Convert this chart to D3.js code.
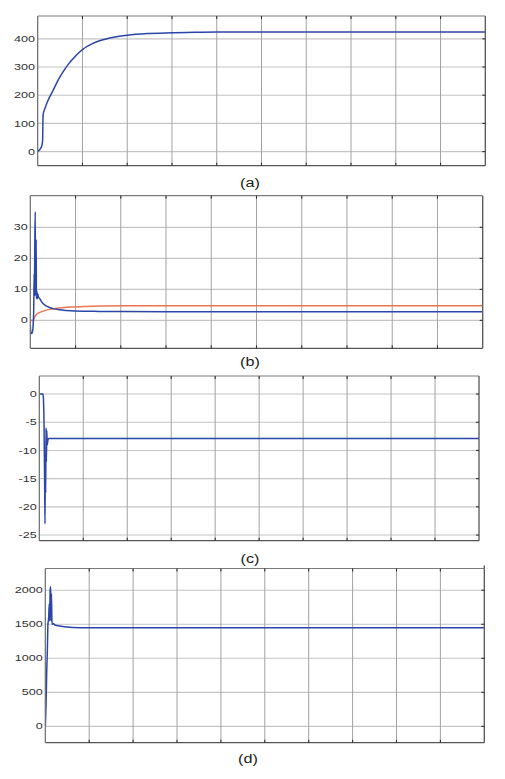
<!DOCTYPE html>
<html><head><meta charset="utf-8">
<script src="https://cdn.jsdelivr.net/npm/d3@7"></script>
<style>html,body{margin:0;padding:0;background:#fff}svg{display:block}</style>
</head><body>
<script>
// ---- data (x in grid units 0..10) ----
const tA = [0,0.013,0.05,0.09,0.11,0.118,0.125,0.15,0.2,0.27,0.35,0.45,0.57,0.7,0.8,0.9,1.0,1.2,1.4,1.7,2.0,2.5,3.0,3.5,4.0,5.0,6.0,8.0,10.0];
const yA = [0,2,8,20,40,120,135,148,170,195,219,252,284,313,331,348,362,381,394,406,413,419,422,423,424,424,424,424,424];

const tB1 = [0,0.01,0.03,0.05,0.065,0.075,0.085,0.09,0.1,0.11,0.115,0.125,0.13,0.135,0.145,0.155,0.165,0.18,0.2,0.25,0.3,0.4,0.5,0.65,0.8,1.0,1.5,2.0,3.0,10.0];
const yB1 = [-1.5,-3.8,-4.2,-3.5,-1,3,15,8,25,35,8,20,26,7,9.5,7,8.5,7.5,7.2,6,5.2,4.3,3.8,3.4,3.2,3.05,2.9,2.85,2.8,2.8];
const tB2 = [0,0.06,0.08,0.1,0.13,0.2,0.25,0.35,0.5,0.7,0.9,1.2,1.6,2.2,3.0,10.0];
const yB2 = [0,0,0.5,1.2,1.8,2.5,2.8,3.3,3.7,4.05,4.3,4.45,4.6,4.7,4.75,4.75];

const tC = [0,0.084,0.095,0.107,0.114,0.123,0.13,0.136,0.146,0.152,0.161,0.17,0.182,0.193,0.21,10.0];
const yC = [0,0,-1,-5,-10,-17,-23,-12,-17.5,-6,-12,-6.5,-9,-8.3,-7.9,-7.9];

const tD = [0,0.016,0.032,0.046,0.06,0.077,0.09,0.1,0.11,0.123,0.132,0.14,0.153,0.175,0.22,0.33,0.56,0.9,1.25,10.0];
const yD = [0,300,800,1100,1500,1600,1800,1550,2000,2050,1550,1950,1500,1510,1490,1475,1458,1450,1448,1448];

const ticksA = [0,100,200,300,400];
const ticksB = [0,10,20,30];
const ticksC = [0,-5,-10,-15,-20,-25];
const ticksD = [0,500,1000,1500,2000];
const panelLabels = ["(a)","(b)","(c)","(d)"];
const xGridUnits = [0,1,2,3,4,5,6,7,8,9,10];

const BLUE = "#2b46a8", ORANGE = "#ea7650";

const W = 505, H = 779;
const svg = d3.select("body").append("svg").attr("width", W).attr("height", H);
svg.append("rect").attr("width", W).attr("height", H).attr("fill", "#fff");

const panels = [
  {l:37.7, r:485.3, t:16,    b:165.7, dom:[-50,481],   ticks:ticksA, series:[[tA,yA,BLUE]],               lab:panelLabels[0], ly:187, lx:250},
  {l:30.3, r:482.7, t:195.7, b:348.3, dom:[-9,40.2],   ticks:ticksB, series:[[tB2,yB2,ORANGE],[tB1,yB1,BLUE]], lab:panelLabels[1], ly:366, lx:250},
  {l:39.3, r:479,   t:376,   b:540.7, dom:[-26,3.2],   ticks:ticksC, series:[[tC,yC,BLUE]],               lab:panelLabels[2], ly:563, lx:250},
  {l:45.3, r:484.3, t:568.5, b:742.7, dom:[-240,2320], ticks:ticksD, series:[[tD,yD,BLUE]],               lab:panelLabels[3], ly:763, lx:248}
];

panels.forEach((p, i) => {
  const x = d3.scaleLinear().domain([0,10]).range([p.l, p.r]);
  const y = d3.scaleLinear().domain(p.dom).range([p.b, p.t]);
  const g = svg.append("g");
  const clipId = "clip" + i;
  svg.append("clipPath").attr("id", clipId).append("rect")
    .attr("x", p.l).attr("y", p.t).attr("width", p.r - p.l).attr("height", p.b - p.t);

  g.selectAll(".hg").data(p.ticks).join("line")
    .attr("x1", p.l).attr("x2", p.r)
    .attr("y1", d => y(d)).attr("y2", d => y(d))
    .attr("stroke", "#c4c4c4").attr("stroke-width", 1.1);
  g.selectAll(".vg").data(xGridUnits.slice(1, -1)).join("line")
    .attr("x1", d => x(d)).attr("x2", d => x(d))
    .attr("y1", p.t).attr("y2", p.b)
    .attr("stroke", "#a2a2a2").attr("stroke-width", 1);

  const line = d3.line().x(d => x(d[0])).y(d => y(d[1])).curve(d3.curveMonotoneX);
  p.series.forEach(([ts, vs, col]) => {
    g.append("path").datum(ts.map((t, k) => [t, vs[k]]))
      .attr("d", line).attr("fill", "none").attr("stroke", col)
      .attr("stroke-width", 1.5).attr("stroke-linejoin", "round")
      .attr("clip-path", `url(#${clipId})`);
  });

  g.append("line").attr("x1", p.l).attr("x2", p.r).attr("y1", p.t).attr("y2", p.t).attr("stroke", "#7a7a7a").attr("stroke-width", 1.2);
  g.append("line").attr("x1", p.r).attr("x2", p.r).attr("y1", p.t).attr("y2", p.b).attr("stroke", "#555").attr("stroke-width", 1.3);
  g.append("line").attr("x1", p.l).attr("x2", p.r).attr("y1", p.b).attr("y2", p.b).attr("stroke", "#555").attr("stroke-width", 1.3);
  g.append("line").attr("x1", p.l).attr("x2", p.l).attr("y1", p.t).attr("y2", p.b).attr("stroke", "#6a6a6a").attr("stroke-width", 1.2);

  const xt = xGridUnits.slice(1, -1);
  g.selectAll(".tb").data(xt).join("line")
    .attr("x1", d => x(d)).attr("x2", d => x(d)).attr("y1", p.b).attr("y2", p.b - 3)
    .attr("stroke", "#333").attr("stroke-width", 1.1);
  g.selectAll(".tt").data(xt).join("line")
    .attr("x1", d => x(d)).attr("x2", d => x(d)).attr("y1", p.t).attr("y2", p.t + 3)
    .attr("stroke", "#333").attr("stroke-width", 1.1);
  g.selectAll(".tr").data(p.ticks).join("line")
    .attr("x1", p.r).attr("x2", p.r - 3).attr("y1", d => y(d)).attr("y2", d => y(d))
    .attr("stroke", "#333").attr("stroke-width", 1.1);

  g.selectAll(".tl").data(p.ticks).join("text")
    .attr("transform", d => `translate(${p.l - 2.6},${y(d) + 3.1}) scale(1.45,1)`)
    .attr("text-anchor", "end")
    .attr("font-family", "'Liberation Sans', Arial, sans-serif")
    .attr("font-size", 8.7).attr("fill", "#333")
    .text(d => d);

  svg.append("text")
    .attr("transform", `translate(${p.lx},${p.ly}) scale(1.2,1)`)
    .attr("text-anchor", "middle")
    .attr("font-family", "'Liberation Sans', Arial, sans-serif")
    .attr("font-size", 13.5).attr("fill", "#1a1a1a")
    .text(p.lab);
});

svg.append("line").attr("x1", 484.3).attr("x2", 484.3).attr("y1", 565.5).attr("y2", 568.5).attr("stroke", "#555").attr("stroke-width", 1.3);
svg.append("text").attr("x", 487).attr("y", 569).attr("font-family", "'Liberation Sans', Arial, sans-serif")
  .attr("font-size", 5).attr("fill", "#777").text(":");
</script>
</body></html>
